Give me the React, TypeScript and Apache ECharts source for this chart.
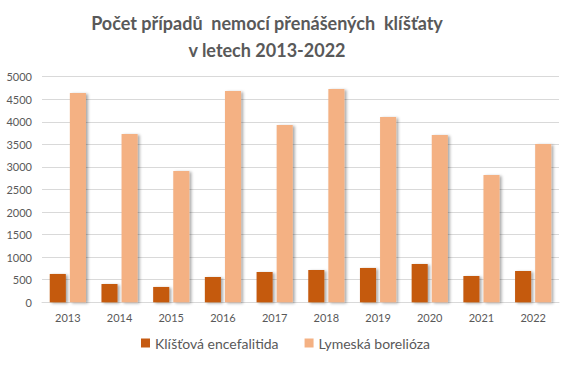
import React, { useEffect, useRef } from "react";
import * as echarts from "echarts";

const years = ["2013", "2014", "2015", "2016", "2017", "2018", "2019", "2020", "2021", "2022"];
const encefalitida = [628, 406, 340, 561, 672, 716, 761, 849, 583, 694];
const borelioza = [4638, 3730, 2910, 4682, 3929, 4727, 4106, 3708, 2821, 3508];
const seriesNames = ["Klíšťová encefalitida", "Lymeská borelióza"];
const titleText = "Počet případů  nemocí přenášených  klíšťaty\nv letech 2013-2022";

const font = "Lato, 'Open Sans', sans-serif";
const gray = "#595959";

export default function App() {
  const ref = useRef<HTMLDivElement>(null);
  useEffect(() => {
    const chart = echarts.init(ref.current!, undefined, { renderer: "svg" });
    const shadow = {
      shadowColor: "rgba(0,0,0,0.35)",
      shadowBlur: 3,
      shadowOffsetX: 2,
      shadowOffsetY: 1,
    };
    chart.setOption({
      animation: false,
      backgroundColor: "#ffffff",
      title: {
        text: titleText,
        left: 262,
        textAlign: "center",
        top: 4,
        textStyle: {
          fontFamily: font,
          fontSize: 18,
          fontWeight: "bold",
          color: gray,
          lineHeight: 27,
        },
      },
      grid: { left: 42, right: 12, top: 76.7, bottom: 64.7 },
      legend: {
        data: seriesNames,
        top: 331,
        left: "center",
        itemWidth: 9,
        itemHeight: 9,
        itemGap: 26,
        icon: "rect",
        textStyle: { fontFamily: font, fontSize: 14, color: gray },
      },
      xAxis: {
        type: "category",
        data: years,
        axisLine: { lineStyle: { color: "#d9d9d9" } },
        axisTick: { show: false },
        axisLabel: { fontFamily: font, fontSize: 11, color: gray, margin: 10 },
      },
      yAxis: {
        type: "value",
        min: 0,
        max: 5000,
        interval: 500,
        axisLine: { show: false },
        axisTick: { show: false },
        splitLine: { lineStyle: { color: "#d9d9d9" } },
        axisLabel: {
          fontFamily: font,
          fontSize: 11,
          color: gray,
          margin: 10,
          formatter: (v: number) => String(v),
        },
      },
      series: [
        {
          name: seriesNames[0],
          type: "bar",
          data: encefalitida,
          barGap: "25%",
          barCategoryGap: "30%",
          itemStyle: { color: "#C55A11", ...shadow },
        },
        {
          name: seriesNames[1],
          type: "bar",
          data: borelioza,
          barGap: "25%",
          barCategoryGap: "30%",
          itemStyle: { color: "#F4B183", ...shadow },
        },
      ],
    });
    return () => chart.dispose();
  }, []);
  return <div ref={ref} style={{ width: 571, height: 367, position: "absolute", left: 0, top: 0 }} />;
}
